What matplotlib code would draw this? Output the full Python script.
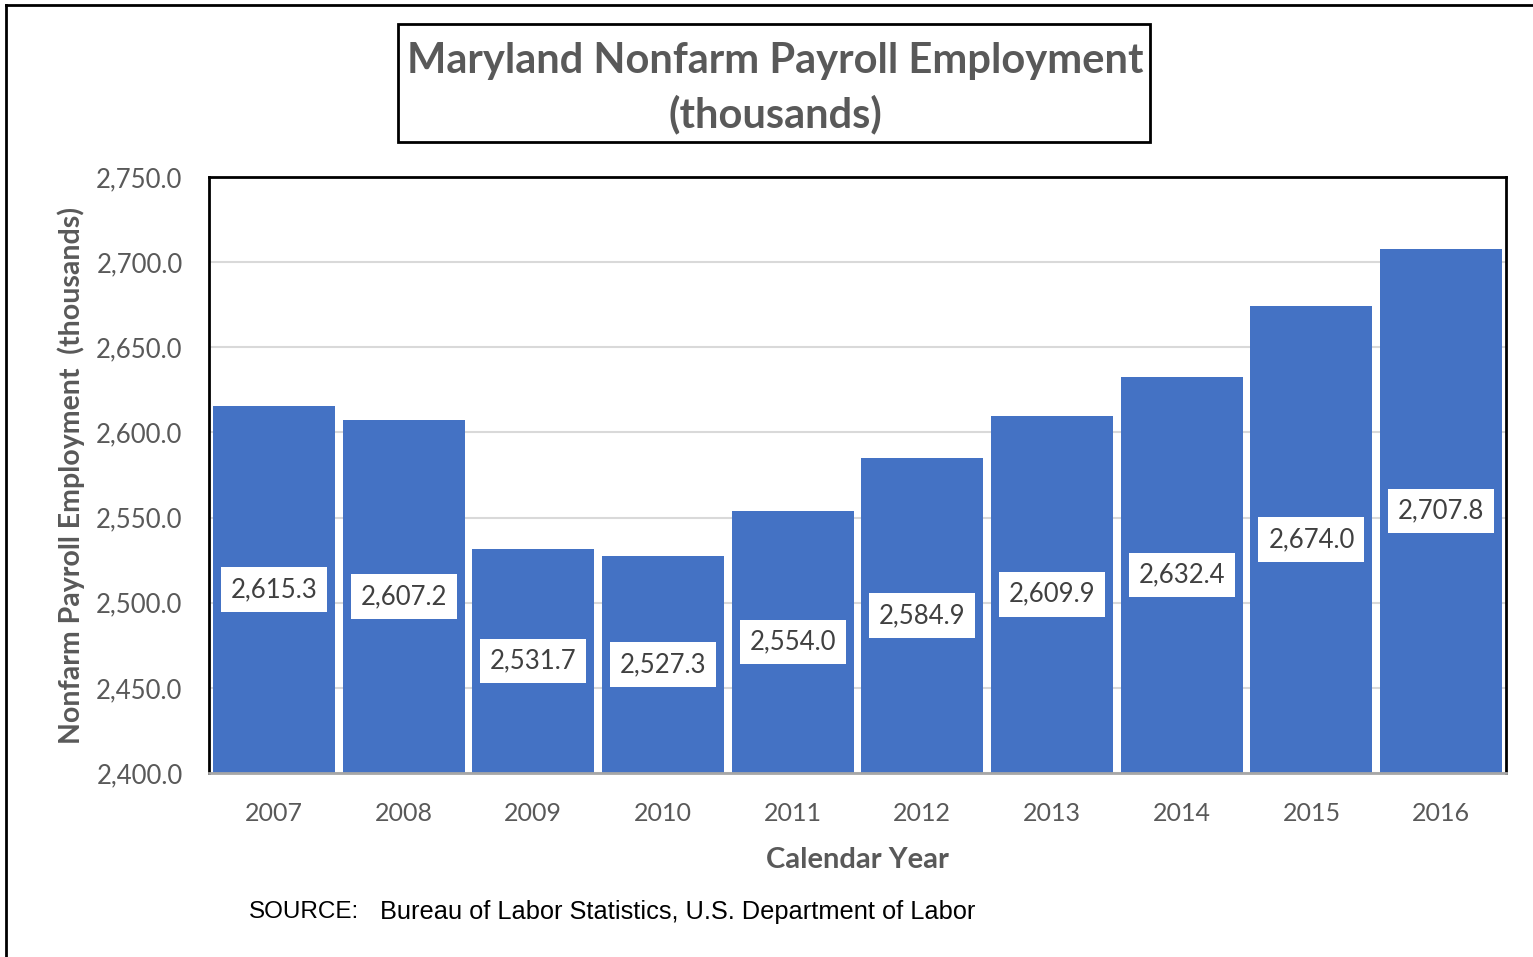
import matplotlib
matplotlib.use("Agg")
import matplotlib.pyplot as plt
from matplotlib.lines import Line2D

# Annual Maryland nonfarm payroll employment, thousands
years = ['2007', '2008', '2009', '2010', '2011', '2012', '2013', '2014', '2015', '2016']
employment = [2615.3, 2607.2, 2531.7, 2527.3, 2554.0, 2584.9, 2609.9, 2632.4, 2674.0, 2707.8]
y_ticks = [2400, 2450, 2500, 2550, 2600, 2650, 2700, 2750]

BAR_COLOR = '#4472C4'
GREY = '#595959'
LABEL_COLOR = '#404040'
FONT = ['Lato', 'DejaVu Sans']

fig = plt.figure(figsize=(15.33, 9.57), dpi=100)
ax = fig.add_axes([209 / 1533, 1 - 773 / 957, 1297 / 1533, 596 / 957])

x = range(len(years))
bars = ax.bar(x, employment, width=0.94, color=BAR_COLOR, zorder=2)

ax.set_xlim(-0.5, len(years) - 0.5)
ax.set_ylim(2400, 2750)
ax.set_yticks(y_ticks)
ax.set_yticklabels([f'{v:,.1f}' for v in y_ticks], fontsize=18.5, color=GREY, family=FONT)
ax.set_xticks(list(x))
ax.set_xticklabels(years, fontsize=18, color=GREY, family=FONT)
ax.tick_params(axis='both', length=0)
ax.tick_params(axis='x', pad=21)
ax.tick_params(axis='y', pad=19)
ax.yaxis.grid(True, color='#D9D9D9', linewidth=1.5, zorder=0)
ax.set_axisbelow(True)

for side in ['top', 'left', 'right']:
    ax.spines[side].set_color('black')
    ax.spines[side].set_linewidth(2)
ax.spines['bottom'].set_color('#A6A6A6')
ax.spines['bottom'].set_linewidth(2)

# value labels in white boxes at the middle of each bar
for rect, val in zip(bars, employment):
    cx = rect.get_x() + rect.get_width() / 2
    cy = 2400 + (val - 2400) / 2
    ax.text(cx, cy, f'{val:,.1f}', ha='center', va='center', fontsize=18.5,
            color=LABEL_COLOR, family=FONT, zorder=3,
            bbox=dict(boxstyle='square,pad=0.38', facecolor='white', edgecolor='none'))

ax.set_xlabel('Calendar Year', fontsize=21, fontweight='bold', color=GREY,
              family=FONT, labelpad=16)
ax.set_ylabel('Nonfarm Payroll Employment  (thousands)', fontsize=20.5,
              fontweight='bold', color=GREY, family=FONT, labelpad=8)

# boxed title
fig.text(775 / 1533, 1 - 88 / 957, 'Maryland Nonfarm Payroll Employment\n(thousands)',
         ha='center', va='center', fontsize=30, fontweight='bold', color=GREY,
         family=FONT, linespacing=1.45)
fig.patches.append(plt.Rectangle((398 / 1533, 1 - 142 / 957), 752 / 1533, 118 / 957,
                                 transform=fig.transFigure, fill=False,
                                 edgecolor='black', linewidth=2))

# source note
src_font = ['Liberation Sans', 'DejaVu Sans']
fig.text(249 / 1533, 1 - 912 / 957, 'SOURCE:', ha='left', va='center',
         fontsize=17.5, color='black', family=src_font)
fig.text(380 / 1533, 1 - 912 / 957, 'Bureau of Labor Statistics, U.S. Department of Labor',
         ha='left', va='center', fontsize=18.3, color='black', family=src_font)

# outer frame lines
fig.lines.append(Line2D([6 / 1533, 6 / 1533], [0, 1 - 5 / 957], transform=fig.transFigure,
                        color='black', linewidth=2))
fig.lines.append(Line2D([6 / 1533, 1], [1 - 5 / 957, 1 - 5 / 957], transform=fig.transFigure,
                        color='black', linewidth=2))

fig.savefig('out.png', dpi=100, facecolor='white')
